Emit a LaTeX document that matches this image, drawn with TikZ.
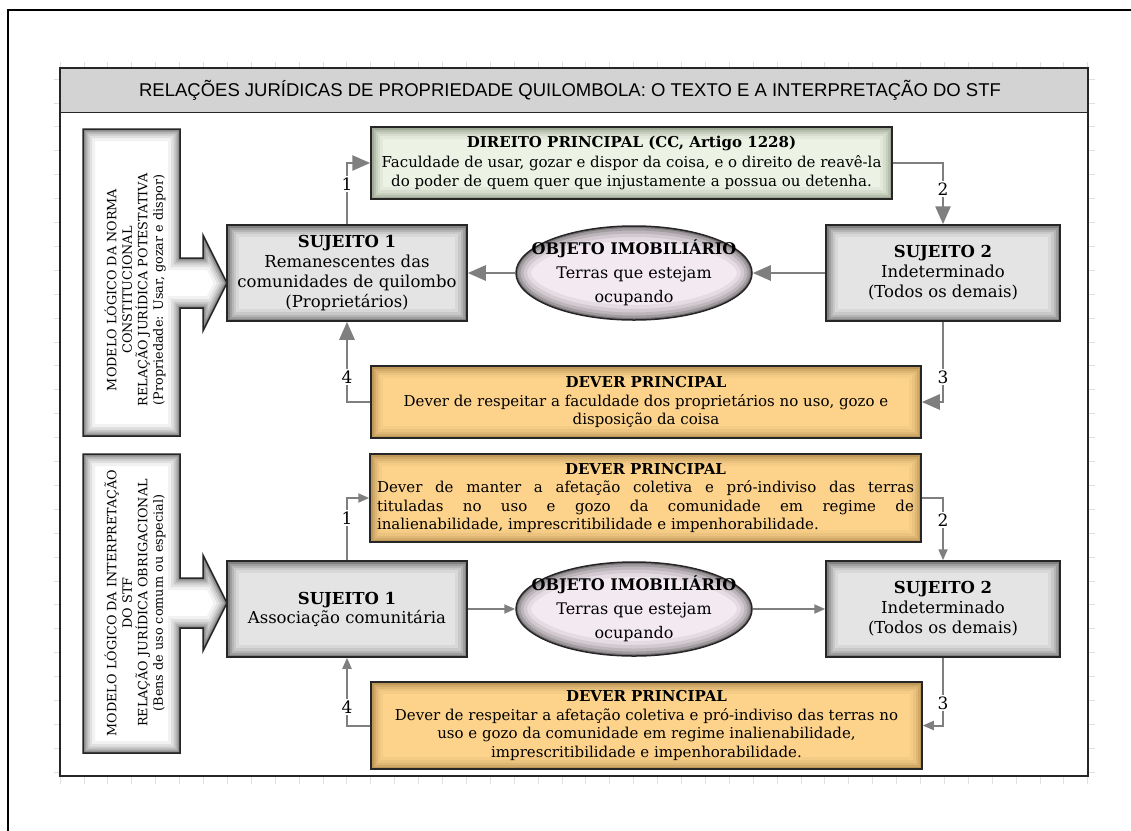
\documentclass[tikz,border=0pt]{standalone}
\usepackage{fontspec}
\setmainfont{DejaVu Serif}
\newfontfamily\titlefont{Liberation Sans}
\usetikzlibrary{arrows.meta,shapes.geometric}
\definecolor{arrowgray}{HTML}{7F7F7F}
\definecolor{boxgray}{HTML}{E4E4E4}
\definecolor{dirgreen}{HTML}{ECF2E4}
\definecolor{dirglow}{HTML}{3B4A30}
\definecolor{devorange}{HTML}{FDD38C}
\definecolor{devglow}{HTML}{6E4A18}
\definecolor{ellfill}{HTML}{F3EAF1}
\definecolor{titlegray}{HTML}{D3D3D3}
\definecolor{tickgray}{HTML}{E0E0E0}
\tikzset{
  glowrect/.style={path picture={
     \foreach \w/\o in {24/0.05,18/0.07,13/0.09,9/0.12,5/0.18,2/0.3}
       \draw[line width=\w pt, draw=#1, draw opacity=\o] (path picture bounding box.south west) rectangle (path picture bounding box.north east);}},
  glowell/.style={path picture={
     \foreach \w/\o in {30/0.06,22/0.08,15/0.1,9/0.14,4/0.25}
       \draw[line width=\w pt, draw=#1, draw opacity=\o] (path picture bounding box.center) ellipse [x radius=118pt, y radius=47pt];}},
  sujbox/.style={draw=black!85, line width=1.5pt, fill=boxgray, glowrect=black, minimum width=240pt, minimum height=96pt, inner sep=0pt, align=center, font=\fontsize{16.5}{20}\selectfont},
  objell/.style={ellipse, draw=black!85, line width=1.5pt, fill=ellfill, glowell=black, minimum width=236pt, minimum height=94pt, inner sep=0pt},
  objtext/.style={align=center, inner sep=0pt, font=\fontsize{16}{24}\selectfont},
  dirbox/.style={draw=black!85, line width=1.5pt, fill=dirgreen, glowrect=dirglow, inner sep=0pt, align=center, font=\fontsize{15}{19.5}\selectfont},
  devbox/.style={draw=black!85, line width=1.5pt, fill=devorange, glowrect=devglow, inner sep=0pt, align=center, font=\fontsize{15}{18.5}\selectfont},
  arrbig/.style={draw=arrowgray, line width=2.6pt, -{Triangle[length=18pt,width=15pt]}},
  arrsmall/.style={draw=arrowgray, line width=2pt, -{Triangle[length=11pt,width=9pt]}},
  lab/.style={fill=white, inner sep=1.5pt, font=\fontsize{17}{17}\selectfont},
  modeltext/.style={rotate=90, align=center, font=\fontsize{12.8}{15.5}\selectfont},
  tick/.style={draw=tickgray, line width=0.8pt}
}
\newcommand\modelbox[3]{%
  \begin{scope}
    \clip (83,#1) -- (180,#1) -- (180,{#3-25}) -- (203,{#3-25}) -- (203,{#3-48}) -- (227,#3) -- (203,{#3+48}) -- (203,{#3+25}) -- (180,{#3+25}) -- (180,#2) -- (83,#2) -- cycle;
    \fill[white] (60,#1) rectangle (240,#2);
    \foreach \w/\o in {24/0.05,18/0.07,13/0.09,9/0.12,5/0.18,2/0.3}
      \draw[line width=\w pt, draw=black, draw opacity=\o, line join=miter] (83,#1) -- (180,#1) -- (180,{#3-25}) -- (203,{#3-25}) -- (203,{#3-48}) -- (227,#3) -- (203,{#3+48}) -- (203,{#3+25}) -- (180,{#3+25}) -- (180,#2) -- (83,#2) -- cycle;
  \end{scope}
  \draw[line width=1.5pt, draw=black!85, line join=miter] (83,#1) -- (180,#1) -- (180,{#3-25}) -- (203,{#3-25}) -- (203,{#3-48}) -- (227,#3) -- (203,{#3+48}) -- (203,{#3+25}) -- (180,{#3+25}) -- (180,#2) -- (83,#2) -- cycle;
}
\begin{document}
\begin{tikzpicture}[x=1pt,y=-1pt]
\useasboundingbox (0,0) rectangle (1131,830);
% outer frame
\draw[line width=2.5pt, black] (8,832) -- (8,10) -- (1133,10);
% ticks
\foreach \i in {0,...,43} {
  \draw[tick] ({60+23.9*\i},62) -- ({60+23.9*\i},68);
  \draw[tick] ({60+23.9*\i},776) -- ({60+23.9*\i},784);
}
\foreach \i in {0,...,29} {
  \draw[tick] (54,{79+23.9*\i}) -- (60,{79+23.9*\i});
  \draw[tick] (1088,{79+23.9*\i}) -- (1095,{79+23.9*\i});
}
% panel and title
\fill[white] (60,68) rectangle (1088,776);
\draw[fill=titlegray, draw=black!85, line width=1pt] (60,68) rectangle (1088,112);
\draw[black!85, line width=1.2pt] (60,68) rectangle (1088,776);
\node[font=\titlefont\fontsize{18.5}{18.5}\selectfont] (title) at (570,90) {RELAÇÕES JURÍDICAS DE PROPRIEDADE QUILOMBOLA: O TEXTO E A INTERPRETAÇÃO DO STF};

% model boxes
\modelbox{129}{436}{283}
\node[modeltext] (mA) at (135,290) {MODELO LÓGICO DA NORMA\\CONSTITUCIONAL\\RELAÇÃO JURÍDICA POTESTATIVA\\(Propriedade: Usar, gozar e dispor)};
\modelbox{454}{753}{603}
\node[modeltext] (mB) at (135,603) {MODELO LÓGICO DA INTERPRETAÇÃO\\DO STF\\RELAÇÃO JURÍDICA OBRIGACIONAL\\(Bens de uso comum ou especial)};

% top section
\node[dirbox, minimum width=521pt, minimum height=72pt] (dir) at (631.5,163) {\textbf{DIREITO PRINCIPAL (CC, Artigo 1228)}\\Faculdade de usar, gozar e dispor da coisa, e o direito de reavê-la\\do poder de quem quer que injustamente a possua ou detenha.};
\node[sujbox] (s1a) at (347,273) {\textbf{SUJEITO 1}\\Remanescentes das\\comunidades de quilombo\\(Proprietários)};
\node[objell] (e1) at (634,273) {};
\node[objtext] (e1t) at (e1.center) {\textbf{OBJETO IMOBILIÁRIO}\\Terras que estejam\\ocupando};
\node[sujbox, minimum width=234pt] (s2a) at (943,273) {\textbf{SUJEITO 2}\\Indeterminado\\(Todos os demais)};
\node[devbox, minimum width=550pt, minimum height=72pt] (dev1) at (646,402) {\textbf{DEVER PRINCIPAL}\\Dever de respeitar a faculdade dos proprietários no uso, gozo e\\disposição da coisa};

\draw[arrbig] (s1a.north) |- (dir.west);
\draw[arrbig] (dir.east) -| (s2a.north);
\draw[arrbig] (s2a.south) |- (dev1.east);
\draw[arrbig] (dev1.west) -| (s1a.south);
\draw[arrbig] (s2a.west) -- (e1.east);
\draw[arrbig] (e1.west) -- (s1a.east);
\node[lab] (l1a) at (347,184) {1};
\node[lab] (l2a) at (943,189) {2};
\node[lab] (l3a) at (943,377) {3};
\node[lab] (l4a) at (347,377) {4};

% bottom section
\node[devbox, minimum width=551pt, minimum height=88pt] (dev2a) at (645.5,498) {\parbox{537pt}{\hyphenpenalty=10000{\centering\textbf{DEVER PRINCIPAL}\par}Dever de manter a afetação coletiva e pró-indiviso das terras\linebreak tituladas no uso e gozo da comunidade em regime de\linebreak inalienabilidade, imprescritibilidade e impenhorabilidade.}};
\node[sujbox, font=\fontsize{16.5}{19}\selectfont] (s1b) at (347,609) {\textbf{SUJEITO 1}\\Associação comunitária};
\node[objell] (e2) at (634,609) {};
\node[objtext] (e2t) at (e2.center) {\textbf{OBJETO IMOBILIÁRIO}\\Terras que estejam\\ocupando};
\node[sujbox, minimum width=234pt] (s2b) at (943,609) {\textbf{SUJEITO 2}\\Indeterminado\\(Todos os demais)};
\node[devbox, minimum width=551pt, minimum height=87pt] (dev2b) at (646.5,725.5) {\textbf{DEVER PRINCIPAL}\\Dever de respeitar a afetação coletiva e pró-indiviso das terras no\\uso e gozo da comunidade em regime inalienabilidade,\\imprescritibilidade e impenhorabilidade.};

\draw[arrsmall] (s1b.north) |- (dev2a.west);
\draw[arrsmall] (dev2a.east) -| (s2b.north);
\draw[arrsmall] (s2b.south) |- (dev2b.east);
\draw[arrsmall] (dev2b.west) -| (s1b.south);
\draw[arrsmall] (s1b.east) -- (e2.west);
\draw[arrsmall] (e2.east) -- (s2b.west);
\node[lab] (l1b) at (347,518) {1};
\node[lab] (l2b) at (943,520) {2};
\node[lab] (l3b) at (943,703) {3};
\node[lab] (l4b) at (347,707) {4};
\end{tikzpicture}
\end{document}
